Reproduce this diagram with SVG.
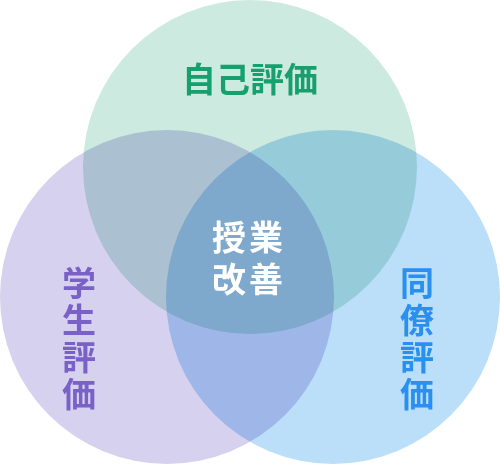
<svg xmlns="http://www.w3.org/2000/svg" width="500" height="465" viewBox="0 0 500 465">
<style>
.c{mix-blend-mode:multiply}
text{font-family:"Noto Sans CJK JP","Noto Sans CJK SC",sans-serif;font-weight:700;font-size:34px;text-anchor:middle}
.v{writing-mode:vertical-rl;text-anchor:start;letter-spacing:3px}
</style>
<rect width="500" height="465" fill="#ffffff"/>
<g id="circles">
<g id="self"><circle class="c" cx="250" cy="167" r="167" fill="#cceae0"/></g>
<g id="student"><circle class="c" cx="167" cy="297" r="167" fill="#d6d1ee"/></g>
<g id="peer"><circle class="c" cx="333" cy="297" r="167" fill="#bcdff9"/></g>
</g>
<g id="labels">
<g id="label-self"><text x="250" y="92" fill="#17a06f">自己評価</text></g>
<g id="label-center"><text fill="#ffffff" letter-spacing="3"><tspan x="249" y="250">授業</tspan><tspan x="249" y="292">改善</tspan></text></g>
<g id="label-student"><text class="v" x="79" y="266" fill="#7a61c7">学生評価</text></g>
<g id="label-peer"><text class="v" x="417" y="266" fill="#2a90f0">同僚評価</text></g>
</g>
</svg>
